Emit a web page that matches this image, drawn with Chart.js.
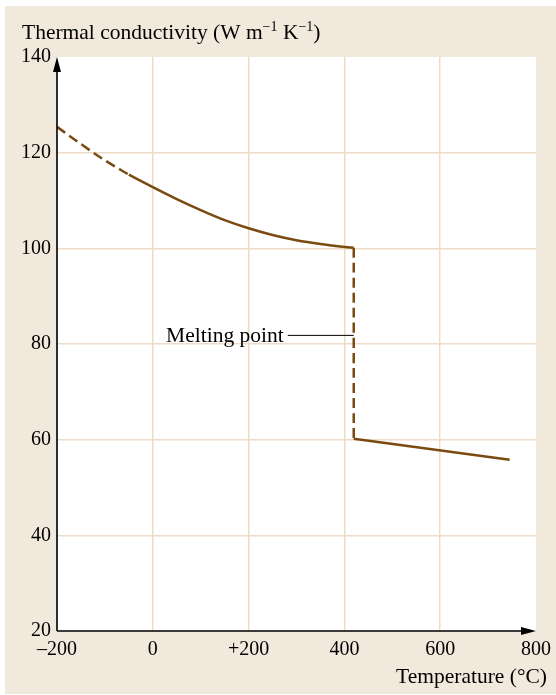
<!DOCTYPE html>
<html>
<head>
<meta charset="utf-8">
<script src="https://cdn.jsdelivr.net/npm/chart.js@4.4.1/dist/chart.umd.min.js"></script>
<style>
    html, body { margin: 0; padding: 0; background: #ffffff; }
    #wrap { position: relative; width: 556px; height: 695px; }
</style>
</head>
<body>
<div id="wrap"><canvas id="grafico" width="556" height="695"></canvas></div>
<script>
// Dados (temperatura em °C, condutividade em W m-1 K-1)
const tempExtrap = [-200, -150, -100, -50];
const condExtrap = [125.4, 121.8, 118.4, 115.4];

const tempSolido = [-50, 0, 50, 100, 150, 200, 250, 300, 350, 400, 419.5];
const condSolido = [115.4, 112.8, 110.3, 108.0, 105.9, 104.2, 102.8, 101.7, 100.9, 100.3, 100.1];

const tempFusao = [419.5, 419.5];
const condFusao = [100.1, 60.2];

const tempLiquido = [419.5, 745];
const condLiquido = [60.2, 55.8];

const xTicks = [-200, 0, 200, 400, 600, 800];
const xTickLabels = ['\u2013200', '0', '+200', '400', '600', '800'];
const yTicks = [20, 40, 60, 80, 100, 120, 140];

const rotuloFusao = 'Melting point';
const posRotulo = { x: 419.5, y: 81.8 };

const FONTE = '"Liberation Serif", "DejaVu Serif", serif';
const COR_LINHA = '#7a4a10';
const COR_GRADE = '#efdcc6';
const COR_FUNDO = '#f2e9dd';

const pares = (xs, ys) => xs.map((x, i) => ({ x: x, y: ys[i] }));

const serie = (xs, ys, tracejado) => ({
    data: pares(xs, ys),
    borderColor: COR_LINHA,
    borderWidth: 2.5,
    borderDash: tracejado ? [10, 5] : [],
    pointRadius: 0,
    showLine: true,
    fill: false,
    cubicInterpolationMode: 'monotone'
});

// Fundo bege, área branca, setas, títulos e rótulo
const decoracao = {
    id: 'decoracao',
    beforeDraw(chart) {
        const { ctx, chartArea: a } = chart;
        ctx.save();
        ctx.fillStyle = COR_FUNDO;
        ctx.fillRect(5, 6, 551, 688);
        ctx.fillStyle = '#ffffff';
        ctx.fillRect(a.left, a.top, a.right - a.left, a.bottom - a.top);
        ctx.restore();
    },
    afterDraw(chart) {
        const { ctx, chartArea: a, scales } = chart;
        ctx.save();
        // eixos
        ctx.strokeStyle = '#000';
        ctx.lineWidth = 1.6;
        ctx.beginPath();
        ctx.moveTo(a.left, a.bottom);
        ctx.lineTo(a.left, a.top + 10);
        ctx.moveTo(a.left, a.bottom);
        ctx.lineTo(a.right - 10, a.bottom);
        ctx.stroke();
        ctx.fillStyle = '#000';
        ctx.beginPath();
        ctx.moveTo(a.left, a.top);
        ctx.lineTo(a.left - 4, a.top + 15);
        ctx.lineTo(a.left + 4, a.top + 15);
        ctx.closePath();
        ctx.fill();
        ctx.beginPath();
        ctx.moveTo(a.right, a.bottom);
        ctx.lineTo(a.right - 15, a.bottom - 4);
        ctx.lineTo(a.right - 15, a.bottom + 4);
        ctx.closePath();
        ctx.fill();

        // título do eixo y com expoentes
        ctx.textAlign = 'left';
        ctx.textBaseline = 'alphabetic';
        let x = 22;
        const yb = 39;
        const partes = [
            ['Thermal conductivity (W m', 0], ['\u22121', 1], [' K', 0], ['\u22121', 1], [')', 0]
        ];
        partes.forEach(([t, sup]) => {
            ctx.font = (sup ? '14px ' : '21.5px ') + FONTE;
            ctx.fillText(t, x, sup ? yb - 8 : yb);
            x += ctx.measureText(t).width;
        });

        // título do eixo x
        ctx.font = '21.5px ' + FONTE;
        ctx.textAlign = 'right';
        ctx.fillText('Temperature (\u00b0C)', 547, 683);

        // ponto de fusão
        const px = scales.x.getPixelForValue(posRotulo.x);
        const py = scales.y.getPixelForValue(posRotulo.y);
        ctx.strokeStyle = '#000';
        ctx.lineWidth = 1;
        ctx.beginPath();
        ctx.moveTo(px - 66, py);
        ctx.lineTo(px, py);
        ctx.stroke();
        ctx.textBaseline = 'middle';
        ctx.fillText(rotuloFusao, px - 70, py + 1);
        ctx.restore();
    }
};

const ctx = document.getElementById('grafico');
new Chart(ctx, {
    type: 'scatter',
    data: {
        datasets: [
            serie(tempExtrap, condExtrap, true),
            serie(tempSolido, condSolido, false),
            serie(tempFusao, condFusao, true),
            serie(tempLiquido, condLiquido, false)
        ]
    },
    options: {
        responsive: false,
        animation: false,
        layout: { padding: { left: 5, top: 57, right: 20, bottom: 0 } },
        plugins: {
            legend: { display: false },
            tooltip: { enabled: false },
            title: { display: false }
        },
        scales: {
            x: {
                type: 'linear',
                min: -200,
                max: 800,
                afterBuildTicks: scale => { scale.ticks = xTicks.map(v => ({ value: v })); },
                afterFit: scale => {
                    scale.height = 64;
                    scale.paddingLeft = 0;
                    scale.paddingRight = 0;
                },
                border: { display: false },
                grid: {
                    drawTicks: false,
                    color: c => (c.tick && (c.tick.value === -200 || c.tick.value === 800)) ? 'rgba(0,0,0,0)' : COR_GRADE,
                    lineWidth: 1.5
                },
                ticks: {
                    padding: 7,
                    color: '#000',
                    maxRotation: 0,
                    font: { family: FONTE, size: 20 },
                    callback: v => {
                        const i = xTicks.indexOf(v);
                        return i >= 0 ? xTickLabels[i] : '';
                    }
                }
            },
            y: {
                type: 'linear',
                min: 20,
                max: 140,
                afterBuildTicks: scale => { scale.ticks = yTicks.map(v => ({ value: v })); },
                afterFit: scale => {
                    scale.width = 52;
                    scale.paddingTop = 0;
                    scale.paddingBottom = 0;
                },
                border: { display: false },
                grid: {
                    drawTicks: false,
                    color: c => (c.tick && (c.tick.value === 20 || c.tick.value === 140)) ? 'rgba(0,0,0,0)' : COR_GRADE,
                    lineWidth: 1.5
                },
                ticks: {
                    padding: 6,
                    color: '#000',
                    font: { family: FONTE, size: 20 }
                }
            }
        }
    },
    plugins: [decoracao]
});
</script>
</body>
</html>
